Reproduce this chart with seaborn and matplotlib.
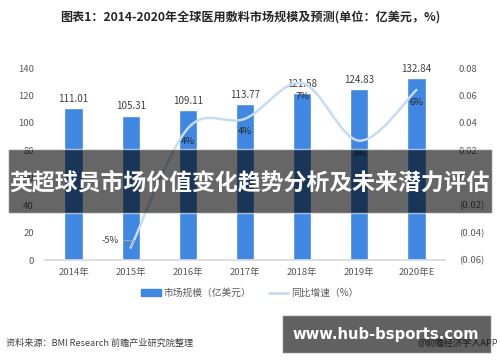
import numpy as np
import pandas as pd
import seaborn as sns
import matplotlib
matplotlib.use("Agg")
import matplotlib.pyplot as plt
from matplotlib.path import Path
from matplotlib.patches import PathPatch, Rectangle
from matplotlib.lines import Line2D
from matplotlib.ticker import FuncFormatter

# ---------------- data ----------------
years = ["2014年", "2015年", "2016年", "2017年", "2018年", "2019年", "2020年E"]
market = [111.01, 105.31, 109.11, 113.77, 121.58, 124.83, 132.84]
growth = [np.nan, -0.051, 0.036, 0.043, 0.069, 0.027, 0.064]
left_ticks = [0, 20, 40, 60, 80, 100, 120, 140]
right_ticks = [-0.06, -0.04, -0.02, 0.0, 0.02, 0.04, 0.06, 0.08]
title = "图表1：2014-2020年全球医用敷料市场规模及预测(单位：亿美元，%)"
legend_labels = ["市场规模（亿美元）", "同比增速（%）"]
banner = "英超球员市场价值变化趋势分析及未来潜力评估"
source_label = "资料来源：BMI Research 前瞻产业研究院整理"
app_label = "@前瞻经济学人APP"
site = "www.hub-bsports.com"

sns.set_theme(style="white")
plt.rcParams["font.family"] = ["Noto Sans CJK SC", "DejaVu Sans"]

BAR = "#3F87E0"
LINE = "#C6DCF4"
TXT = "#595959"

W, H = 500, 362
fig = plt.figure(figsize=(W / 100, H / 100), dpi=100)
fig.patch.set_facecolor("white")

def fx(px):
    return px / W

def fy(py):
    return 1 - py / H

ax = fig.add_axes([fx(45), fy(260), fx(445) - fx(45), fy(68) - fy(260)])
df = pd.DataFrame({"year": years, "market": market, "growth": growth})
sns.barplot(data=df, x="year", y="market", color=BAR, width=0.32,
            saturation=1, ax=ax)
ax.set_xlim(-0.5, 6.5)
ax.set_ylim(0, 140)
ax.set_yticks(left_ticks)
ax.set_xlabel("")
ax.set_ylabel("")
for s in ["top", "right", "left"]:
    ax.spines[s].set_visible(False)
ax.spines["bottom"].set_color("#D9D9D9")
ax.tick_params(axis="both", length=0, labelsize=6.8, colors=TXT)
ax.tick_params(axis="x", pad=6)
ax.tick_params(axis="y", pad=8)
ax.bar_label(ax.containers[0], fmt="%.2f", padding=3, fontsize=7, color="#404040")

ax2 = ax.twinx()
ax2.set_ylim(-0.06, 0.08)
ax2.set_yticks(right_ticks)
ax2.yaxis.set_major_formatter(FuncFormatter(
    lambda v, p: "0" if abs(v) < 1e-9 else (f"({abs(v):.2f})" if v < 0 else f"{v:.2f}")))
for s in ["top", "right", "left", "bottom"]:
    ax2.spines[s].set_visible(False)
ax2.tick_params(axis="y", length=0, labelsize=6.8, colors=TXT, pad=10)

# smoothed growth line (Excel-like smooth) through the data points
pts = [(i, g) for i, g in enumerate(df["growth"]) if not np.isnan(g)]
verts = [pts[0]]
codes = [Path.MOVETO]
n = len(pts)
for k in range(n - 1):
    p0 = np.array(pts[max(k - 1, 0)])
    p1 = np.array(pts[k])
    p2 = np.array(pts[k + 1])
    p3 = np.array(pts[min(k + 2, n - 1)])
    c1 = p1 + (p2 - p0) / 6
    c2 = p2 - (p3 - p1) / 6
    verts += [tuple(c1), tuple(c2), tuple(p2)]
    codes += [Path.CURVE4] * 3
ax2.add_patch(PathPatch(Path(verts, codes), facecolor="none", edgecolor=LINE,
                        lw=1.8, capstyle="round", zorder=3))

for i, g in pts:
    lab = f"{g:.0%}"
    if i == 1:
        ax2.annotate(lab, xy=(i, g), xytext=(-12, 7), textcoords="offset pixels",
                     ha="right", va="center", fontsize=6.8, color="#404040",
                     arrowprops=dict(arrowstyle="-", color="#A6A6A6", lw=0.8,
                                     connectionstyle="angle,angleA=0,angleB=60,rad=0",
                                     shrinkA=1, shrinkB=1))
    else:
        ax2.annotate(lab, xy=(i, g), xytext=(0, -13), textcoords="offset pixels",
                     ha="center", va="center", fontsize=6.8, color="#262626", zorder=4)

# legend
handles = [Rectangle((0, 0), 1, 1, color=BAR),
           Line2D([0], [0], color=LINE, lw=2)]
fig.legend(handles, legend_labels, loc="center", bbox_to_anchor=(fx(250), fy(293)),
           ncol=2, frameon=False, fontsize=7, labelcolor=TXT, handlelength=2.0,
           handleheight=0.6, columnspacing=1.8, handletextpad=0.3)

# title
fig.text(fx(250), fy(17), title, ha="center", va="center", fontsize=8.7,
         fontweight="bold", color="#262626")

# source
fig.text(fx(6), fy(343), source_label, ha="left", va="center", fontsize=6.6,
         color="#404040")
fig.text(fx(498), fy(343), app_label, ha="right", va="center", fontsize=6.6,
         color="#404040")

# overlay banner
fig.patches.append(Rectangle((fx(8), fy(213)), fx(492) - fx(8), fy(149) - fy(213),
                             transform=fig.transFigure, facecolor="black",
                             alpha=0.6, zorder=10))
fig.text(fx(250), fy(183), banner, ha="center", va="center", fontsize=16.5,
         fontweight="bold", color="white", zorder=11)

# site box
fig.patches.append(Rectangle((fx(282), fy(353)), fx(491) - fx(282), fy(315) - fy(353),
                             transform=fig.transFigure, facecolor="black",
                             alpha=0.62, zorder=10))
fig.text(fx(386), fy(334), site, ha="center", va="center", fontsize=10.6,
         fontweight="bold", color="white", family="DejaVu Sans", zorder=11)

fig.savefig("out.png", dpi=100, facecolor="white")
